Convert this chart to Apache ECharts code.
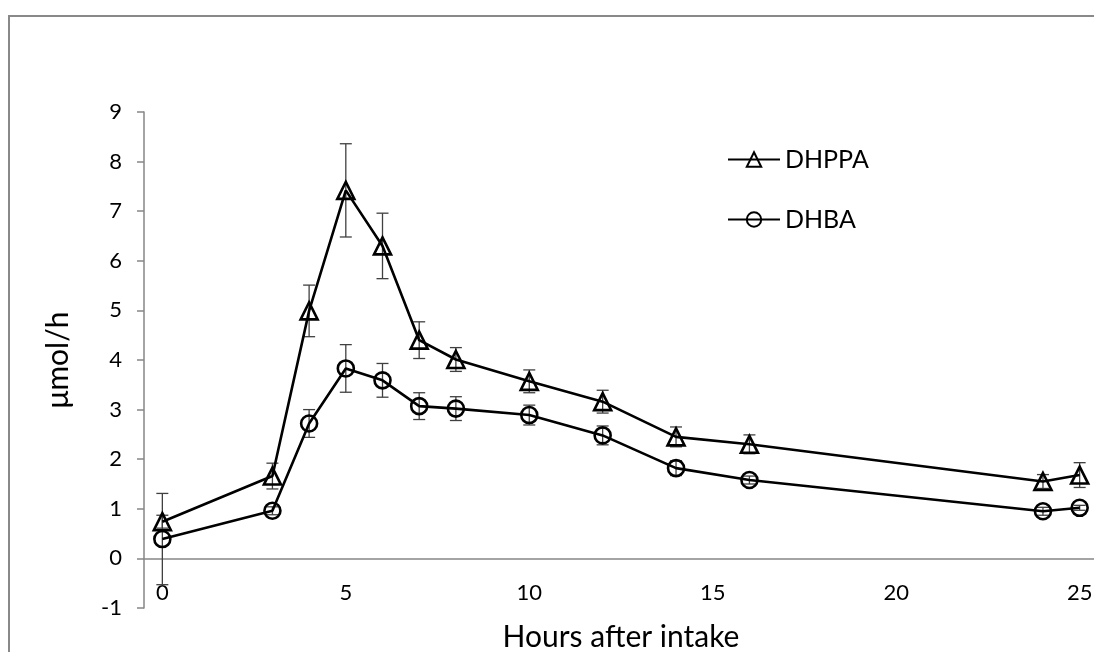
<!DOCTYPE html>
<html>
<head>
<meta charset="utf-8">
<script src="https://cdn.jsdelivr.net/npm/echarts@6/dist/echarts.min.js"></script>
<style>
  html, body { margin: 0; padding: 0; background: #fff; }
  #chart { width: 1094px; height: 652px; }
</style>
</head>
<body>
<div id="chart"></div>
<script>
// Sampling times (hours after intake)
const hours = [0, 3, 4, 5, 6, 7, 8, 10, 12, 14, 16, 24, 25];

// Excretion rates (µmol/h) with error bar half-widths
const dhppa    = [0.74, 1.66, 4.99, 7.42, 6.30, 4.40, 4.01, 3.57, 3.16, 2.45, 2.30, 1.55, 1.68];
const dhppaErr = [0.13, 0.26, 0.52, 0.94, 0.66, 0.37, 0.24, 0.23, 0.23, 0.20, 0.19, 0.14, 0.25];
const dhba     = [0.39, 0.96, 2.72, 3.83, 3.59, 3.07, 3.02, 2.89, 2.48, 1.82, 1.58, 0.95, 1.02];
const dhbaErr  = [0.92, 0.08, 0.28, 0.48, 0.34, 0.27, 0.24, 0.20, 0.19, 0.15, 0.08, 0.08, 0.05];

const xTickValues = [0, 5, 10, 15, 20, 25];
const seriesNames = ['DHPPA', 'DHBA'];

const FONT = 'Lato, "Open Sans", "Liberation Sans", sans-serif';
const AXIS_GRAY = '#868686';

// y-range of the plot and its pixel height, used to lift the x axis onto y = 0
const Y_MIN = -1, Y_MAX = 9, GRID_H = 496;
const ZERO_OFFSET = -GRID_H * (0 - Y_MIN) / (Y_MAX - Y_MIN);

function errorData(values, errs) {
  return hours.map((h, i) => [h, values[i] - errs[i], values[i] + errs[i]]);
}

function renderErrorBar(params, api) {
  const x = api.value(0);
  const lo = api.coord([x, api.value(1)]);
  const hi = api.coord([x, api.value(2)]);
  const half = 6;
  const style = { stroke: '#404040', lineWidth: 1.3, fill: null };
  return {
    type: 'group',
    children: [
      { type: 'line', shape: { x1: hi[0], y1: hi[1], x2: lo[0], y2: lo[1] }, style: style },
      { type: 'line', shape: { x1: hi[0] - half, y1: hi[1], x2: hi[0] + half, y2: hi[1] }, style: style },
      { type: 'line', shape: { x1: lo[0] - half, y1: lo[1], x2: lo[0] + half, y2: lo[1] }, style: style }
    ]
  };
}

function lineSeries(name, values, symbol, size) {
  return {
    name: name,
    type: 'line',
    data: hours.map((h, i) => [h, values[i]]),
    symbol: symbol,
    symbolSize: size,
    showAllSymbol: true,
    z: 3,
    lineStyle: { color: '#000', width: 2.6 },
    itemStyle: { color: 'rgba(0,0,0,0)', borderColor: '#000', borderWidth: 2.6 },
    emphasis: { disabled: true },
    animation: false
  };
}

const chart = echarts.init(document.getElementById('chart'), null, { renderer: 'canvas' });

chart.setOption({
  animation: false,
  backgroundColor: '#fff',
  graphic: [{
    type: 'rect',
    shape: { x: 9, y: 16, width: 1200, height: 800 },
    style: { fill: null, stroke: '#898989', lineWidth: 2 },
    silent: true
  }],
  grid: {
    left: 144, top: 112, width: 954, height: GRID_H,
    containLabel: false,
    outerBoundsMode: 'none'
  },
  legend: {
    orient: 'vertical',
    left: 722,
    top: 142,
    itemWidth: 52,
    itemHeight: 18,
    itemGap: 35,
    data: seriesNames,
    textStyle: { fontFamily: FONT, fontSize: 25, color: '#000' }
  },
  xAxis: {
    type: 'value',
    min: -0.5,
    max: 25.5,
    offset: ZERO_OFFSET,
    axisLine: { onZero: false, lineStyle: { color: AXIS_GRAY, width: 1.5 } },
    axisTick: { show: false },
    splitLine: { show: false },
    axisLabel: {
      customValues: xTickValues,
      margin: 24,
      fontFamily: FONT,
      fontSize: 22,
      color: '#000'
    },
    name: 'Hours after intake',
    nameLocation: 'middle',
    nameGap: 64,
    nameTextStyle: { fontFamily: FONT, fontSize: 30, color: '#000' }
  },
  yAxis: {
    type: 'value',
    min: Y_MIN,
    max: Y_MAX,
    interval: 1,
    axisLine: { show: true, onZero: false, lineStyle: { color: AXIS_GRAY, width: 1.5 } },
    axisTick: { show: true, inside: false, length: 7, lineStyle: { color: AXIS_GRAY, width: 1.5 } },
    splitLine: { show: false },
    axisLabel: { margin: 22, fontFamily: FONT, fontSize: 22, color: '#000' },
    name: 'μmol/h',
    nameLocation: 'middle',
    nameGap: 71,
    nameRotate: 90,
    nameTextStyle: { fontFamily: FONT, fontSize: 30, color: '#000' }
  },
  series: [
    {
      type: 'custom',
      name: 'DHPPA error',
      renderItem: renderErrorBar,
      data: errorData(dhppa, dhppaErr),
      encode: { x: 0, y: [1, 2] },
      z: 2,
      silent: true
    },
    {
      type: 'custom',
      name: 'DHBA error',
      renderItem: renderErrorBar,
      data: errorData(dhba, dhbaErr),
      encode: { x: 0, y: [1, 2] },
      z: 2,
      silent: true
    },
    lineSeries('DHPPA', dhppa, 'triangle', 17),
    lineSeries('DHBA', dhba, 'circle', 16)
  ]
});
</script>
</body>
</html>
